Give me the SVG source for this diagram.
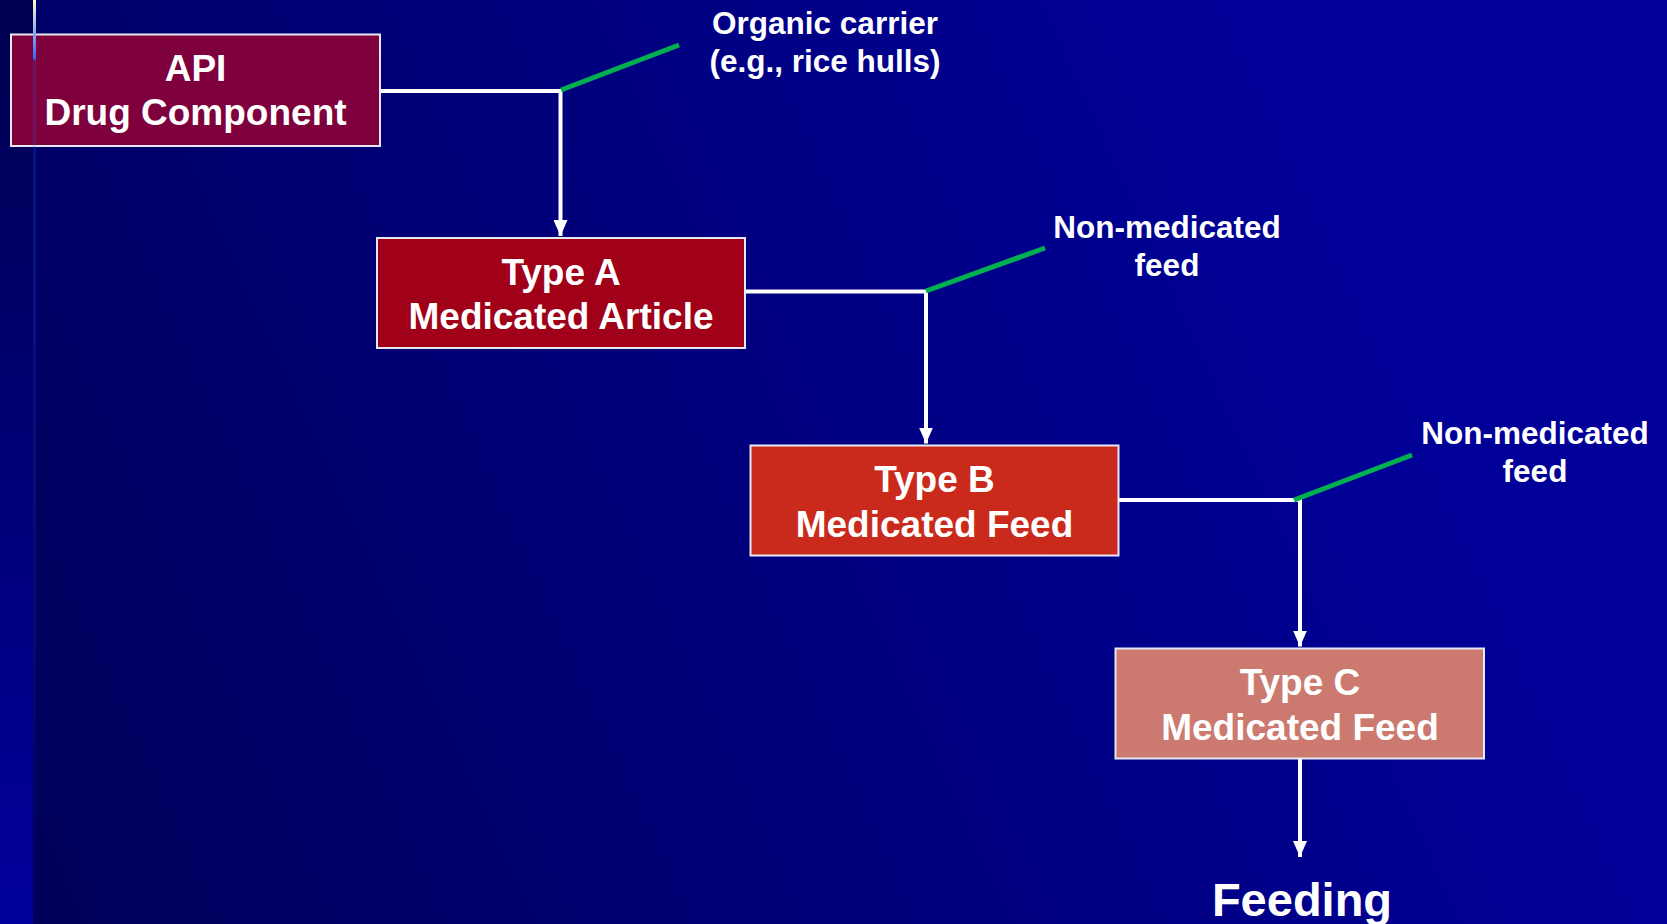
<svg xmlns="http://www.w3.org/2000/svg" width="1667" height="924" viewBox="0 0 1667 924">
  <defs>
    <linearGradient id="bgMain" gradientUnits="userSpaceOnUse" x1="33" y1="924" x2="1400" y2="300">
      <stop offset="0" stop-color="#00005A"/>
      <stop offset="1" stop-color="#000099"/>
    </linearGradient>
    <linearGradient id="bgStrip" x1="0" y1="0" x2="0" y2="1">
      <stop offset="0" stop-color="#000050"/>
      <stop offset="1" stop-color="#00009C"/>
    </linearGradient>
    <linearGradient id="accent" gradientUnits="userSpaceOnUse" x1="0" y1="0" x2="0" y2="924">
      <stop offset="0" stop-color="#FFFFCC" stop-opacity="1"/>
      <stop offset="0.063" stop-color="#3366FF" stop-opacity="1"/>
      <stop offset="0.066" stop-color="#3366FF" stop-opacity="0.18"/>
      <stop offset="0.6" stop-color="#3366FF" stop-opacity="0.12"/>
      <stop offset="1" stop-color="#3366FF" stop-opacity="0"/>
    </linearGradient>
    <marker id="arrow" markerUnits="userSpaceOnUse" markerWidth="16" markerHeight="14" refX="16" refY="7" orient="auto">
      <path d="M0,0 L16,7 L0,14 Z" fill="#FFFFFF"/>
    </marker>
    <style>
      .box { stroke: #E8E8F4; stroke-width: 2; }
      .btxt { font-family: "Liberation Sans", Arial, sans-serif; font-weight: bold; font-size: 37px; fill: #FFFFFF; text-anchor: middle; }
      .ltxt { font-family: "Liberation Sans", Arial, sans-serif; font-weight: bold; font-size: 31.5px; fill: #FFFFFF; text-anchor: middle; }
      .conn { fill: none; stroke: #FFFFFF; stroke-width: 4; }
      .green { fill: none; stroke: #00B050; stroke-width: 5; }
    </style>
  </defs>

  <g id="background">
    <rect x="0" y="0" width="1667" height="924" fill="url(#bgMain)"/>
    <rect x="0" y="0" width="33" height="924" fill="url(#bgStrip)"/>
  </g>

  <g id="connectors">
    <path class="conn" d="M380,91 H560.5 V236" marker-end="url(#arrow)"/>
    <path class="conn" d="M745,291.5 H926 V443.5" marker-end="url(#arrow)"/>
    <path class="conn" d="M1118,500 H1300 V646.5" marker-end="url(#arrow)"/>
    <path class="conn" d="M1300,758.5 V857" marker-end="url(#arrow)"/>
    <line class="green" x1="561" y1="90" x2="679" y2="45"/>
    <line class="green" x1="926" y1="291" x2="1045" y2="248"/>
    <line class="green" x1="1294" y1="500" x2="1412" y2="455"/>
  </g>

  <g id="node-api">
    <rect class="box" x="11" y="34.5" width="369" height="111.5" fill="#7E003C"/>
    <text class="btxt" x="195.5" y="80.5">API</text>
    <text class="btxt" x="195.5" y="125">Drug Component</text>
  </g>

  <g id="node-typeA">
    <rect class="box" x="377" y="238" width="368" height="110" fill="#A00018"/>
    <text class="btxt" x="561" y="284.5">Type A</text>
    <text class="btxt" x="561" y="329">Medicated Article</text>
  </g>

  <g id="node-typeB">
    <rect class="box" x="750.5" y="445.5" width="368" height="110" fill="#CA2A1C"/>
    <text class="btxt" x="934.5" y="492">Type B</text>
    <text class="btxt" x="934.5" y="536.5">Medicated Feed</text>
  </g>

  <g id="node-typeC">
    <rect class="box" x="1115.5" y="648.5" width="368.5" height="110" fill="#CC7A70"/>
    <text class="btxt" x="1300" y="695">Type C</text>
    <text class="btxt" x="1300" y="739.5">Medicated Feed</text>
  </g>

  <g id="label-organic">
    <text class="ltxt" x="825" y="34">Organic carrier</text>
    <text class="ltxt" x="825" y="72">(e.g., rice hulls)</text>
  </g>

  <g id="label-nonmed-1">
    <text class="ltxt" x="1167" y="238">Non-medicated</text>
    <text class="ltxt" x="1167" y="276">feed</text>
  </g>

  <g id="label-nonmed-2">
    <text class="ltxt" x="1535" y="444">Non-medicated</text>
    <text class="ltxt" x="1535" y="482">feed</text>
  </g>

  <g id="node-feeding">
    <text x="1302" y="916" font-family="Liberation Sans, Arial, sans-serif" font-weight="bold" font-size="47" fill="#FFFFFF" text-anchor="middle">Feeding</text>
  </g>

  <g id="accent-line">
    <rect x="33" y="0" width="3" height="924" fill="url(#accent)"/>
  </g>
</svg>
